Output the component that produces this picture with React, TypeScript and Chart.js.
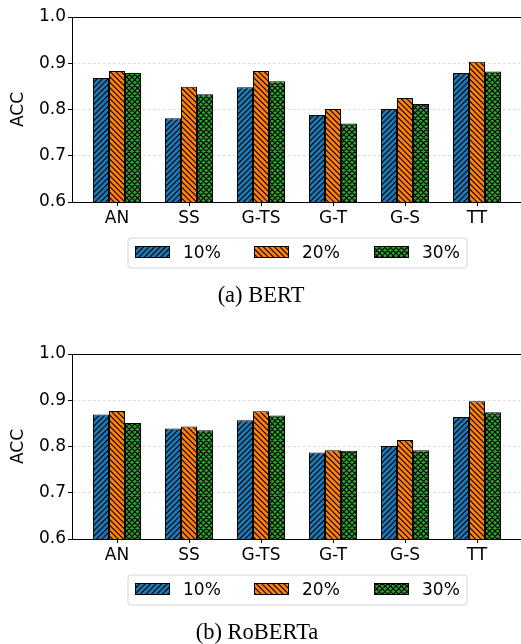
import React, { useEffect, useRef } from "react";
import { Chart, registerables } from "chart.js";
Chart.register(...registerables);

const categories = ["AN", "SS", "G-TS", "G-T", "G-S", "TT"];
const seriesLabels = ["10%", "20%", "30%"];
const seriesColors = ["#1f77b4", "#ff7f0e", "#2ca02c"];
const seriesHatches = ["fwd", "back", "cross"];

const bert10 = [0.868, 0.781, 0.848, 0.788, 0.801, 0.879];
const bert20 = [0.883, 0.849, 0.883, 0.801, 0.825, 0.903];
const bert30 = [0.879, 0.833, 0.861, 0.770, 0.812, 0.882];

const roberta10 = [0.869, 0.839, 0.857, 0.787, 0.801, 0.864];
const roberta20 = [0.877, 0.843, 0.876, 0.792, 0.814, 0.898];
const roberta30 = [0.851, 0.835, 0.867, 0.791, 0.792, 0.874];

const yTicks = [0.6, 0.7, 0.8, 0.9, 1.0];
const yLabel = "ACC";
const captions = ["(a) BERT", "(b) RoBERTa"];

const SANS = '"DejaVu Sans", sans-serif';
const SERIF = '"Liberation Serif", "Times New Roman", serif';

function makePattern(color: string, kind: string): CanvasPattern | string {
  const s = 11;
  const step = 5.5;
  const c = document.createElement("canvas");
  c.width = s;
  c.height = s;
  const g = c.getContext("2d");
  if (!g) return color;
  g.fillStyle = color;
  g.fillRect(0, 0, s, s);
  g.strokeStyle = "#000";
  g.lineWidth = 1.1;
  g.beginPath();
  if (kind === "fwd" || kind === "cross") {
    for (let k = 0; k <= 4; k++) {
      const cc = k * step;
      g.moveTo(cc + 1, -1);
      g.lineTo(cc - s - 1, s + 1);
    }
  }
  if (kind === "back" || kind === "cross") {
    for (let k = -2; k <= 2; k++) {
      const cc = k * step;
      g.moveTo(cc - 1, -1);
      g.lineTo(cc + s + 1, s + 1);
    }
  }
  g.stroke();
  const p = g.createPattern(c, "repeat");
  return p || color;
}

function buildChart(
  canvas: HTMLCanvasElement,
  series: number[][],
  caption: string,
  captionX: number,
  padTop: number,
  padBottom: number
) {
  const patterns = seriesColors.map((col, i) => makePattern(col, seriesHatches[i]));
  const datasets = series.map((vals, si) => ({
    label: seriesLabels[si],
    data: vals.map((v, i) => ({ x: i, y: v })),
    backgroundColor: patterns[si] as any,
    borderColor: "#000",
    borderWidth: 1,
    borderSkipped: false as any,
    categoryPercentage: 0.667,
    barPercentage: 1.0,
  }));

  const decor = {
    id: "decor",
    afterDraw(chart: any) {
      const { ctx, chartArea } = chart;
      ctx.save();
      // top spine
      ctx.strokeStyle = "#000";
      ctx.lineWidth = 1;
      ctx.beginPath();
      ctx.moveTo(chartArea.left, Math.round(chartArea.top) + 0.5);
      ctx.lineTo(chartArea.right, Math.round(chartArea.top) + 0.5);
      ctx.stroke();

      // legend
      const ly = chartArea.bottom + 36;
      const lx = 128;
      const lw = 339;
      const lh = 30;
      const r = 3;
      ctx.beginPath();
      ctx.moveTo(lx + r, ly);
      ctx.lineTo(lx + lw - r, ly);
      ctx.quadraticCurveTo(lx + lw, ly, lx + lw, ly + r);
      ctx.lineTo(lx + lw, ly + lh - r);
      ctx.quadraticCurveTo(lx + lw, ly + lh, lx + lw - r, ly + lh);
      ctx.lineTo(lx + r, ly + lh);
      ctx.quadraticCurveTo(lx, ly + lh, lx, ly + lh - r);
      ctx.lineTo(lx, ly + r);
      ctx.quadraticCurveTo(lx, ly, lx + r, ly);
      ctx.closePath();
      ctx.fillStyle = "rgba(255,255,255,0.8)";
      ctx.fill();
      ctx.strokeStyle = "#d5d5d5";
      ctx.lineWidth = 1;
      ctx.stroke();

      const patchX = [135, 254, 374];
      const textX = [183, 302, 422];
      ctx.font = `17px ${SANS}`;
      ctx.textBaseline = "middle";
      ctx.textAlign = "left";
      for (let i = 0; i < seriesLabels.length; i++) {
        ctx.fillStyle = patterns[i] as any;
        ctx.fillRect(patchX[i], ly + 8, 35, 12);
        ctx.strokeStyle = "#000";
        ctx.lineWidth = 1;
        ctx.strokeRect(patchX[i] + 0.5, ly + 8.5, 34, 11);
        ctx.fillStyle = "#000";
        ctx.fillText(seriesLabels[i], textX[i], ly + 15.5);
      }

      // caption
      ctx.font = `22.5px ${SERIF}`;
      ctx.textAlign = "center";
      ctx.textBaseline = "middle";
      ctx.fillStyle = "#000";
      ctx.fillText(caption, captionX, chartArea.bottom + 94);
      ctx.restore();
    },
  };

  return new Chart(canvas, {
    type: "bar",
    data: { datasets: datasets as any },
    plugins: [decor as any],
    options: {
      responsive: false,
      animation: false,
      devicePixelRatio: 1,
      layout: { padding: { top: padTop, bottom: padBottom, left: 0, right: 0 } },
      plugins: { legend: { display: false }, tooltip: { enabled: false } },
      scales: {
        x: {
          type: "linear",
          min: -0.625,
          max: 5.611,
          offset: false,
          afterBuildTicks: (s: any) => {
            s.ticks = categories.map((_, i) => ({ value: i }));
          },
          afterFit: (s: any) => {
            s.height = 30;
          },
          ticks: {
            callback: (v: any) => categories[v as number] ?? "",
            font: { family: SANS, size: 17 },
            color: "#000",
            padding: 2,
            autoSkip: false,
            maxRotation: 0,
          },
          grid: {
            offset: false,
            drawOnChartArea: false,
            drawTicks: true,
            tickLength: 4,
            tickColor: "#000",
            color: "#000",
          },
          border: { color: "#000", width: 1 },
        } as any,
        y: {
          min: 0.6,
          max: 1.0,
          afterBuildTicks: (s: any) => {
            s.ticks = yTicks.map((v) => ({ value: v }));
          },
          afterFit: (s: any) => {
            s.width = 72;
          },
          ticks: {
            callback: (v: any) => Number(v).toFixed(1),
            font: { family: SANS, size: 17 },
            color: "#000",
            padding: 2,
          },
          grid: {
            color: "#d0d0d0",
            lineWidth: 0.8,
            tickColor: "#000",
            tickLength: 4,
            tickWidth: 1,
          },
          border: { color: "#000", width: 1, dash: [2.5, 2.5] },
          title: {
            display: true,
            text: yLabel,
            font: { family: SANS, size: 17 },
            color: "#000",
            padding: { top: 8, bottom: 0 },
          },
        } as any,
      },
    },
  });
}

export default function App() {
  const ref1 = useRef<HTMLCanvasElement>(null);
  const ref2 = useRef<HTMLCanvasElement>(null);

  useEffect(() => {
    document.body.style.margin = "0";
    const c1 = ref1.current!;
    const c2 = ref2.current!;
    const ch1 = buildChart(c1, [bert10, bert20, bert30], captions[0], 261, 17, 90);
    const ch2 = buildChart(c2, [roberta10, roberta20, roberta30], captions[1], 257, 32, 75);
    return () => {
      ch1.destroy();
      ch2.destroy();
    };
  }, []);

  return (
    <div style={{ position: "relative", width: 521, height: 644, background: "#fff" }}>
      <canvas
        ref={ref1}
        width={521}
        height={322}
        style={{ position: "absolute", left: 0, top: 0, width: 521, height: 322 }}
      />
      <canvas
        ref={ref2}
        width={521}
        height={322}
        style={{ position: "absolute", left: 0, top: 322, width: 521, height: 322 }}
      />
    </div>
  );
}
